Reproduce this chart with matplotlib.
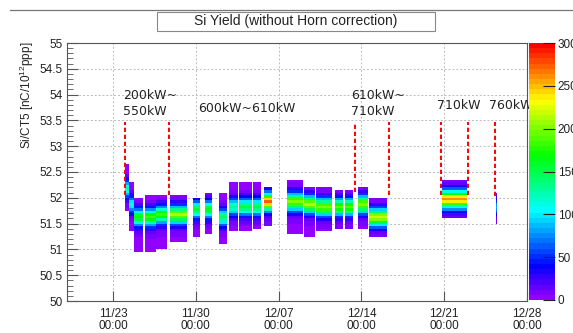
import colorsys
from datetime import datetime, timedelta

import numpy as np
import matplotlib
matplotlib.use("Agg")
import matplotlib.pyplot as plt
import matplotlib.dates as mdates
from matplotlib.colors import ListedColormap, Normalize
from matplotlib.patches import Rectangle
from matplotlib.lines import Line2D

plt.rcParams["font.family"] = "Liberation Sans"
plt.rcParams["mathtext.default"] = "regular"

# day 0 = 11/23 00:00
t0 = datetime(2023, 11, 23)

# beam periods: start/end (days from t0), band centre, peak count, top and bottom of the band
seg_start = [1.01, 1.35, 1.78, 2.70, 3.63, 4.82, 6.76, 7.78, 8.96, 9.80, 10.65,
             11.83, 12.76, 14.79, 16.15, 17.16, 18.77, 19.61, 20.71, 21.64, 27.81, 32.38]
seg_end = [1.35, 1.78, 2.54, 3.63, 4.56, 6.26, 7.35, 8.37, 9.64, 10.57, 11.75,
           12.51, 13.44, 16.06, 17.08, 18.51, 19.44, 20.29, 21.56, 23.16, 29.92, 32.47]
seg_center = [52.15, 51.85, 51.62, 51.62, 51.68, 51.69, 51.77, 51.79, 51.60, 51.82, 51.82,
              51.82, 51.90, 51.90, 51.87, 51.83, 51.81, 51.81, 51.85, 51.64, 51.95, 51.80]
seg_peak = [120, 110, 170, 180, 180, 210, 150, 160, 140, 130, 150,
            150, 270, 200, 210, 200, 190, 190, 200, 220, 260, 80]
seg_top = [52.72, 52.30, 52.02, 52.05, 52.05, 52.05, 52.00, 52.10, 52.25, 52.33, 52.33,
           52.30, 52.20, 52.37, 52.22, 52.22, 52.14, 52.14, 52.18, 51.98, 52.33, 52.08]
seg_floor = [51.75, 51.35, 50.95, 50.95, 51.00, 51.15, 51.25, 51.30, 51.10, 51.35, 51.35,
             51.40, 51.45, 51.30, 51.25, 51.35, 51.40, 51.40, 51.42, 51.25, 51.62, 51.50]

# vertical shape of a band, in 0.05 steps from -0.85 to +0.45 around the centre
profile = [0.007, 0.008, 0.008, 0.009, 0.010, 0.012, 0.015, 0.020, 0.025, 0.035,
           0.050, 0.080, 0.150, 0.280, 0.450, 0.700, 0.900, 1.000, 0.900, 0.650,
           0.420, 0.250, 0.120, 0.050, 0.030, 0.020, 0.012]
profile_lo = -17

# power steps (dashed markers) and their labels
step_day = [1.01, 4.73, 20.43, 23.30, 27.70, 29.98, 32.30]
step_bottom = [52.05, 52.05, 52.12, 52.05, 52.05, 52.05, 52.03]
step_top = 53.47
power_text = ["200kW~\n550kW", "600kW~610kW", "610kW~\n710kW", "710kW", "760kW"]
power_day = [0.85, 7.23, 20.12, 27.43, 31.78]
power_y = [53.83, 53.74, 53.83, 53.79, 53.79]

tick_day = [0, 7, 14, 21, 28, 35]
tick_text = ["11/23\n00:00", "11/30\n00:00", "12/07\n00:00",
             "12/14\n00:00", "12/21\n00:00", "12/28\n00:00"]

# fill the 2D histogram (2 h x 0.05 bins)
dt = 1 / 12
dy = 0.05
t_edges = np.arange(-4, 35 + dt / 2, dt)
y_edges = np.arange(50, 55 + dy / 2, dy)
t_mid = 0.5 * (t_edges[1:] + t_edges[:-1])
y_mid = 0.5 * (y_edges[1:] + y_edges[:-1])
counts = np.zeros((len(y_mid), len(t_mid)))
for s, e, c, pk, top, flo in zip(seg_start, seg_end, seg_center, seg_peak, seg_top, seg_floor):
    cols = (t_mid >= s) & (t_mid <= e)
    for i, y in enumerate(y_mid):
        k = int(round((y - c) / dy)) - profile_lo
        if 0 <= k < len(profile) and flo <= y <= top:
            counts[i, cols] = pk * profile[k]
counts = np.ma.masked_less(counts, 1)

# ROOT "pretty" palette: 50 hues from violet to red
pal = [colorsys.hls_to_rgb((280 - (i + 1) * 280 / 50) / 360, 0.5, 1) for i in range(50)]
cmap = ListedColormap(pal)

fig = plt.figure(figsize=(5.73, 3.33), dpi=100)
ax = fig.add_axes([67 / 573, 1 - 301 / 333, 460 / 573, 258 / 333])
cax = fig.add_axes([529 / 573, 1 - 300 / 333, 26 / 573, 257 / 333])

x0 = mdates.date2num(t0)
mesh = ax.pcolormesh(x0 + t_edges, y_edges, counts, cmap=cmap,
                     norm=Normalize(0, 300), shading="flat", antialiased=False)

ax.vlines([x0 + d for d in step_day], step_bottom, step_top, colors="red",
          linestyles=(0, (2.2, 1.4)), lw=1.4, zorder=3)
for txt, d, y in zip(power_text, power_day, power_y):
    ax.text(x0 + d, y, txt, ha="left", va="center", fontsize=9,
            family="DejaVu Sans", linespacing=1.25, color="#222222")

ax.set_xlim(mdates.date2num(t0 - timedelta(days=3.89)), x0 + 35)
ax.set_ylim(50, 55)
ax.set_xticks([x0 + d for d in tick_day])
ax.set_xticklabels(tick_text, linespacing=1.0)
ax.yaxis.set_major_locator(plt.MultipleLocator(0.5))
ax.yaxis.set_minor_locator(plt.MultipleLocator(0.1))
ax.yaxis.set_major_formatter(plt.FuncFormatter(lambda v, p: f"{v:g}"))
ax.tick_params(axis="both", which="both", direction="in", labelsize=8.5,
               color="#555555", labelcolor="#222222")
ax.tick_params(axis="y", which="major", length=8, pad=3)
ax.tick_params(axis="y", which="minor", length=4)
ax.tick_params(axis="x", which="major", length=7, pad=5)
ax.grid(True, which="major", color="#bbbbbb", linestyle=(0, (2, 2)), lw=0.7)
ax.set_axisbelow(True)
for sp in ax.spines.values():
    sp.set_color("#555555")

cb = fig.colorbar(mesh, cax=cax)
cb.set_ticks(range(0, 301, 50))
cb.outline.set_visible(False)
cax.tick_params(direction="in", length=9, color="#222222", labelsize=8.5,
                pad=2, labelcolor="#222222")

fig.text(27 / 573, 1 - 42 / 333, "Si/CT5 [nC/10$^{12}$ppp]", rotation=90,
         ha="center", va="top", fontsize=8.5, color="#222222")

# title box and canvas top edge
fig.add_artist(Rectangle((157 / 573, 1 - 31 / 333), 278 / 573, 19 / 333,
                         transform=fig.transFigure, fc="white", ec="#888888", lw=0.8))
fig.text(296 / 573, 1 - 21.5 / 333, "Si Yield (without Horn correction)",
         ha="center", va="center", fontsize=10, color="#222222")
fig.add_artist(Line2D([10 / 573, 1], [1 - 10 / 333] * 2, transform=fig.transFigure,
                      color="#777777", lw=0.9))

fig.savefig("out.png", dpi=100)
